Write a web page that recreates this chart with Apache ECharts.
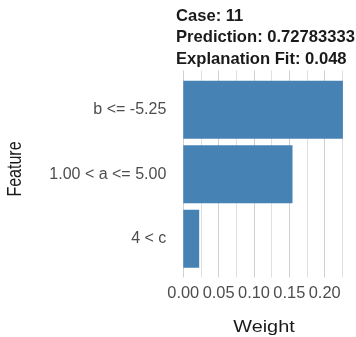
<!DOCTYPE html>
<html>
<head>
<meta charset="utf-8">
<script src="https://cdn.jsdelivr.net/npm/echarts@6/dist/echarts.min.js"></script>
<style>
html,body{margin:0;padding:0;background:#fff;}
#chart{width:356px;height:337px;}
</style>
</head>
<body>
<div id="chart"></div>
<script>
const categories = ['b <= -5.25', '1.00 < a <= 5.00', '4 < c'];
const weights = [0.2258, 0.1545, 0.0225];
const xTickLabels = [0, 0.05, 0.10, 0.15, 0.20];
const xGridValues = [0, 0.025, 0.05, 0.075, 0.10, 0.125, 0.15, 0.175, 0.20, 0.225];
const titleLines = ['Case: 11', 'Prediction: 0.72783333', 'Explanation Fit: 0.048'];
const xTitle = 'Weight';
const yTitle = 'Feature';

const FONT = "'Liberation Sans', Arial, Helvetica, sans-serif";
const xMin = -0.0113, xMax = 0.2268;

const chart = echarts.init(document.getElementById('chart'), null, {renderer: 'canvas'});
chart.setOption({
  animation: false,
  backgroundColor: '#ffffff',
  title: {
    text: titleLines.join('\n'),
    left: 176,
    top: 5.5,
    padding: 0,
    textStyle: {fontFamily: FONT, fontSize: 16.6, fontWeight: 'bold', color: '#1a1a1a', lineHeight: 21.5}
  },
  grid: [
    {left: 175.3, right: 12.4, top: 70.5, bottom: 59.5, containLabel: false},
    {left: 175.3, right: 12.4, top: 77.6, height: 193.5, containLabel: false}
  ],
  xAxis: [
    {
      type: 'value', gridIndex: 0, min: xMin, max: xMax,
      axisLine: {show: false},
      axisTick: {show: false, customValues: xGridValues},
      axisLabel: {
        customValues: xTickLabels,
        formatter: v => Number(v).toFixed(2),
        fontFamily: FONT, fontSize: 16.4, color: '#4d4d4d', margin: 8
      },
      splitLine: {show: true, lineStyle: {color: ['#d0d0d0', '#dfdfdf'], width: 1}}
    },
    {
      type: 'value', gridIndex: 1, min: xMin, max: xMax, show: false,
      splitLine: {show: false}
    }
  ],
  yAxis: [
    {type: 'value', gridIndex: 0, min: 0, max: 1, show: false, splitLine: {show: false}},
    {
      type: 'category', gridIndex: 1, data: categories, inverse: true,
      axisLine: {show: false}, axisTick: {show: false},
      axisLabel: {fontFamily: FONT, fontSize: 16, color: '#4d4d4d', margin: 9},
      splitLine: {show: false}
    }
  ],
  series: [
    {
      type: 'bar', xAxisIndex: 1, yAxisIndex: 1,
      data: weights, barWidth: 58,
      itemStyle: {color: '#4682B4'},
      silent: true
    }
  ],
  graphic: [
    {
      type: 'text', x: 264, y: 327.5, scaleX: 1.24,
      style: {text: xTitle, fontFamily: FONT, fontSize: 16, fill: '#1a1a1a', textAlign: 'center', textVerticalAlign: 'middle'}
    },
    {
      type: 'text', x: 15.5, y: 169, rotation: Math.PI / 2, scaleY: 1.25,
      style: {text: yTitle, fontFamily: FONT, fontSize: 16, fill: '#1a1a1a', textAlign: 'center', textVerticalAlign: 'middle'}
    }
  ]
});
</script>
</body>
</html>
